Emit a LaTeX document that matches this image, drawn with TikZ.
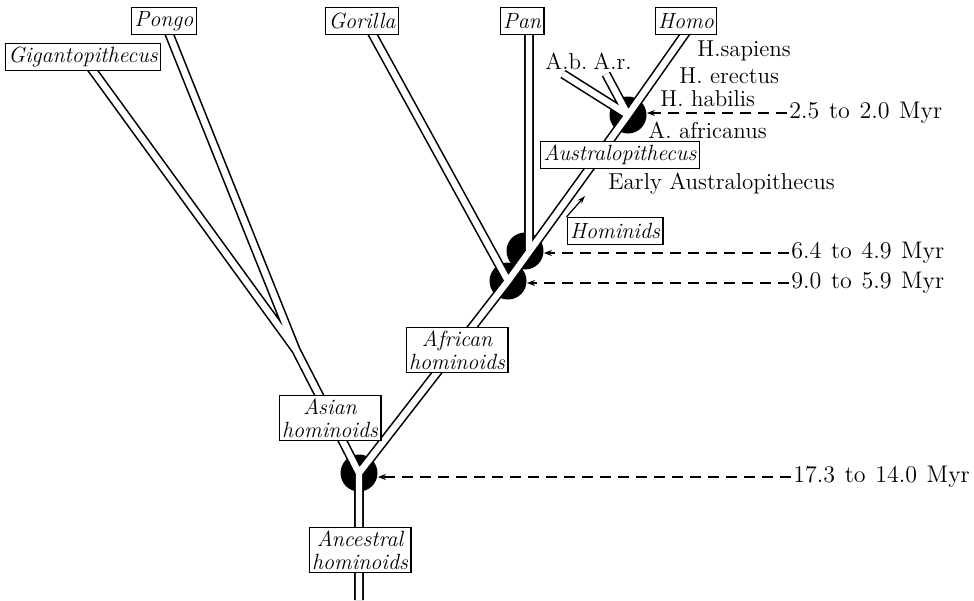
\documentclass[tikz,border=0pt]{standalone}
\usepackage{fontspec}
\usepackage{tikz}
\usetikzlibrary{arrows.meta,backgrounds}
\newcommand\widegaps{\spaceskip=4.8pt\relax}
\tikzset{
  taxon/.style={draw=black, line width=0.65pt, fill=white, inner xsep=1.5pt, inner ysep=1.5pt,
                minimum height=13.5pt, font=\fontsize{11}{11.5}\selectfont\itshape, align=center},
  blob/.style={circle, fill=black, minimum size=18.5pt, inner sep=0pt},
  limbout/.style={line width=4.8pt, draw=black, line join=round},
  limbin/.style={line width=3.2pt, draw=white, line join=round},
  spname/.style={font=\fontsize{11.5}{13}\selectfont, inner sep=0pt, anchor=west},
  datelabel/.style={font=\fontsize{12}{13}\selectfont, inner sep=1pt, anchor=west},
  datearrow/.style={line width=0.6pt, dash pattern=on 5.5pt off 3.5pt, -{Stealth[length=4pt,width=3pt]}},
  pointer/.style={line width=0.6pt, -{Stealth[length=4pt,width=2.6pt]}},
}
\begin{document}
\begin{tikzpicture}[x=0.5pt, y=-0.5pt]
\useasboundingbox (0,0) rectangle (974,600);
\node[taxon] (gigan) at (83,57) {Gigantopithecus};
\node[taxon] (pongo) at (164,21) {Pongo};
\node[taxon] (gorilla) at (362,21) {Gorilla};
\node[taxon] (pan) at (522,21) {Pan};
\node[taxon] (homo) at (686,21) {Homo};
\node[taxon] (austro) at (620,155) {Australopithecus};
\node[taxon] (hominids) at (615,231) {Hominids};
\node[taxon] (african) at (457,350) {African\\hominoids};
\node[taxon] (asian) at (330,418) {Asian\\hominoids};
\node[taxon] (ancestral) at (360,550) {Ancestral\\hominoids};
\node[spname] (ablab) at (545,61) {A.b.};
\node[spname] (arlab) at (593,61) {A.r.};
\node[spname] (hsap) at (697,51) {H.sapiens};
\node[spname] (herect) at (679,76) {H. erectus};
\node[spname] (hhab) at (660,99) {H. habilis};
\node[spname] (aafr) at (648,130) {A. africanus};
\node[spname] (early) at (608,184) {Early Australopithecus};
\node[datelabel] (d1) at (787,113) {\widegaps 2.5 to 2.0 Myr};
\node[datelabel] (d2) at (789,253) {\widegaps 6.4 to 4.9 Myr};
\node[datelabel] (d3) at (789,283) {\widegaps 9.0 to 5.9 Myr};
\node[datelabel] (d4) at (791,477) {\widegaps 17.3 to 14.0 Myr};
\begin{pgfonlayer}{background}
\node[blob] (n1) at (359,473) {};
\node[blob] (n2) at (508,281) {};
\node[blob] (n3) at (525,251) {};
\node[blob] (n4) at (628,115) {};
\coordinate (root) at (359,600);
\coordinate (fork) at (296,350);
\coordinate (gortip) at (368,26);
\coordinate (pantip) at (529,26);
\coordinate (homotip) at (692,24);
\coordinate (abtip) at (563,74);
\coordinate (artip) at (606,74);
\foreach \layer in {limbout,limbin}
  \draw[\layer] (root) -- (n1.center) -- (fork) -- (gigan.center)
    (fork) -- (pongo.center)
    (n1.center) -- (n2.center) -- (n4.center) -- (homotip)
    (n2.center) -- (gortip)
    (pantip) -- (pantip |- n3)
    (n4.center) -- (abtip)
    (n4.center) -- (artip);
\end{pgfonlayer}
\coordinate (hmtip) at (585,196);
\draw[pointer] (hominids.north west) -- (hmtip);
\draw[datearrow] (d1.west) -- (d1.west -| n4.east);
\draw[datearrow] (d2.west) -- (d2.west -| n3.east);
\draw[datearrow] (d3.west) -- (d3.west -| n2.east);
\draw[datearrow] (d4.west) -- (d4.west -| n1.east);
\end{tikzpicture}
\end{document}
